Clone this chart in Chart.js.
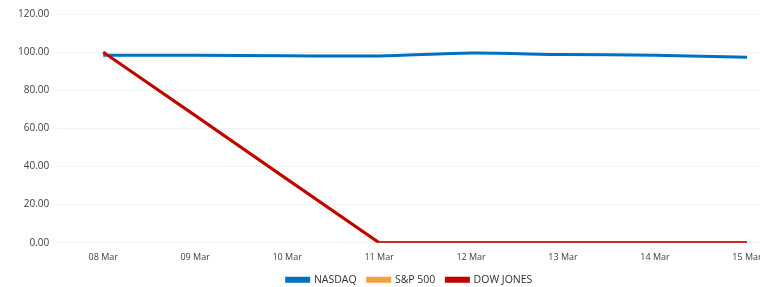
<!DOCTYPE html>
<html>
<head>
<meta charset="utf-8">
<script src="https://cdn.jsdelivr.net/npm/chart.js@4"></script>
<style>
  html, body { margin: 0; padding: 0; background: #fff; overflow: hidden; }
  #wrap { width: 822px; height: 295px; }
</style>
</head>
<body>
<div id="wrap"><canvas id="market__chart" width="822" height="295"></canvas></div>
<script>
// Categories and series values
const days = ['08 Mar', '09 Mar', '10 Mar', '11 Mar', '12 Mar', '13 Mar', '14 Mar', '15 Mar'];
const nasdaq = [98.4, 98.3, 98.1, 98.0, 99.5, 98.7, 98.4, 97.3];
const sp500 = [100, 66.7, 33.3, 0, 0, 0, 0, 0];
const dowJones = [100, 66.7, 33.3, 0, 0, 0, 0, 0];
const yTicks = [0, 20, 40, 60, 80, 100, 120];

// nudge the legend a little to the right, like the original
const legendShift = {
  id: 'legendShift',
  afterLayout(chart) {
    chart.legend.left += 8;
    chart.legend.right += 8;
  }
};

const ctx = document.getElementById('market__chart').getContext('2d');
const marketChart = new Chart(ctx, {
  type: 'line',
  data: {
    labels: days,
    datasets: [
      {
        label: 'NASDAQ',
        data: nasdaq,
        borderColor: '#0070c0',
        backgroundColor: '#0070c0',
        borderWidth: 3,
        tension: 0.3,
        order: 2
      },
      {
        label: 'S&P 500',
        data: sp500,
        borderColor: '#f5a03a',
        backgroundColor: '#f5a03a',
        borderWidth: 3,
        tension: 0,
        order: 1
      },
      {
        label: 'DOW JONES',
        data: dowJones,
        borderColor: '#c00000',
        backgroundColor: '#c00000',
        borderWidth: 3,
        tension: 0,
        order: 0
      }
    ]
  },
  plugins: [legendShift],
  options: {
    responsive: false,
    animation: false,
    elements: { point: { radius: 0 } },
    layout: { padding: { left: 10, right: 29, top: 10, bottom: 0 } },
    plugins: {
      tooltip: { enabled: false },
      legend: {
        position: 'bottom',
        reverse: true,
        labels: {
          boxWidth: 22,
          boxHeight: 3,
          padding: 11,
          color: '#303030',
          font: { family: 'Open Sans', size: 10.5 }
        }
      }
    },
    scales: {
      x: {
        offset: true,
        grid: { display: false },
        border: { display: false },
        ticks: {
          color: '#404040',
          maxRotation: 0,
          padding: 1,
          font: { family: 'Open Sans', size: 9 }
        }
      },
      y: {
        min: 0,
        max: 120,
        afterBuildTicks: axis => { axis.ticks = yTicks.map(v => ({ value: v })); },
        grid: { color: '#f2f2f2', drawTicks: false },
        border: { display: false },
        ticks: {
          color: '#404040',
          padding: 8,
          font: { family: 'Open Sans', size: 10 },
          callback: v => v.toFixed(2)
        }
      }
    }
  }
});
</script>
</body>
</html>
